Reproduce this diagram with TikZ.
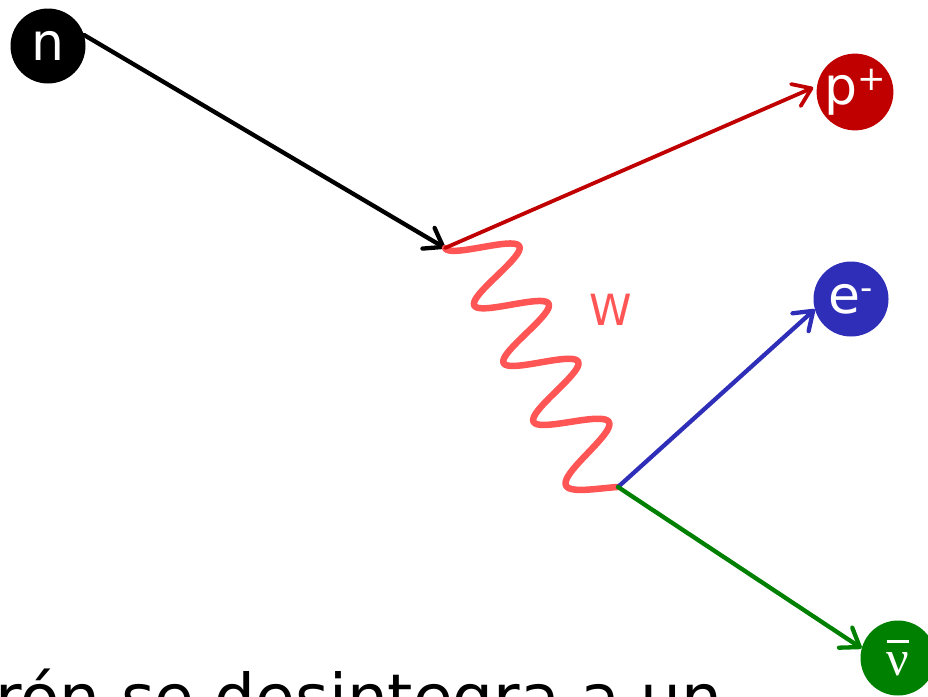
\documentclass[tikz,border=0pt]{standalone}
\usepackage{fontspec}
\setmainfont{DejaVu Sans}
\newfontfamily\nufont{Liberation Serif}
\usetikzlibrary{arrows.meta}
\definecolor{nred}{HTML}{C00000}
\definecolor{nblue}{HTML}{2E2EB8}
\definecolor{ngreen}{HTML}{008000}
\definecolor{wred}{HTML}{FF5555}
\newcommand{\charge}[1]{\raisebox{14pt}{\fontsize{34}{34}\selectfont#1}}
\newcommand{\antibar}[1]{\setbox0\hbox{#1}\vbox{\hrule height 3pt width \wd0\kern 9pt\box0}}
\begin{document}
\begin{tikzpicture}[x=1pt,y=-1pt,>={Straight Barb[length=17pt,width=24pt,round]},line join=round,line cap=round,
	particle/.style={circle,minimum size=75pt,inner sep=0pt,text=white,font=\fontsize{52}{52}\selectfont},
	track/.style={->,line width=4.3pt},
	wline/.style={wred,line width=6.5pt}]
	\useasboundingbox (0,0) rectangle (928,696);
	\clip (0,0) rectangle (928,696);
	\path
	(48,46) node[particle,fill=black] (n) {n}
	(855,92) node[particle,fill=nred] (p) {p\charge{+}}
	(851,299) node[particle,fill=nblue] (e) {e\charge{-}}
	(898,658) node[particle,fill=ngreen] (nu) {\nufont\fontsize{50}{50}\selectfont\antibar{ν}}
	(445,248) coordinate (v1)
	(618,487) coordinate (v2);
	\draw[track] (n.17) -- (v1);
	% W boson, from v1 to v2
	\draw[wline,shift={(v1)}] plot[domain=0:277.9,samples=240,variable=\s]
	({(\s+13.5*(\s/277.9)^6)*0.454+33.5*(1-cos(\s/64.5*360))*0.891},
	{(\s+13.5*(\s/277.9)^6)*0.891-33.5*(1-cos(\s/64.5*360))*0.454});
	\draw[track,nred,line width=3.8pt,shorten >=4pt] (v1) -- (p.171);
	\draw[track,nblue] (v2) -- (e.196);
	\draw[track,ngreen] (v2) -- (nu.165);
	\node[text=wred,font=\fontsize{43}{43}\selectfont] (w) at (611,310) {W};
	\node[anchor=base west,inner sep=0pt,font=\fontsize{64.5}{64.5}\selectfont] (txt) at (-5,720) {rón se desintegra a un};
\end{tikzpicture}
\end{document}
